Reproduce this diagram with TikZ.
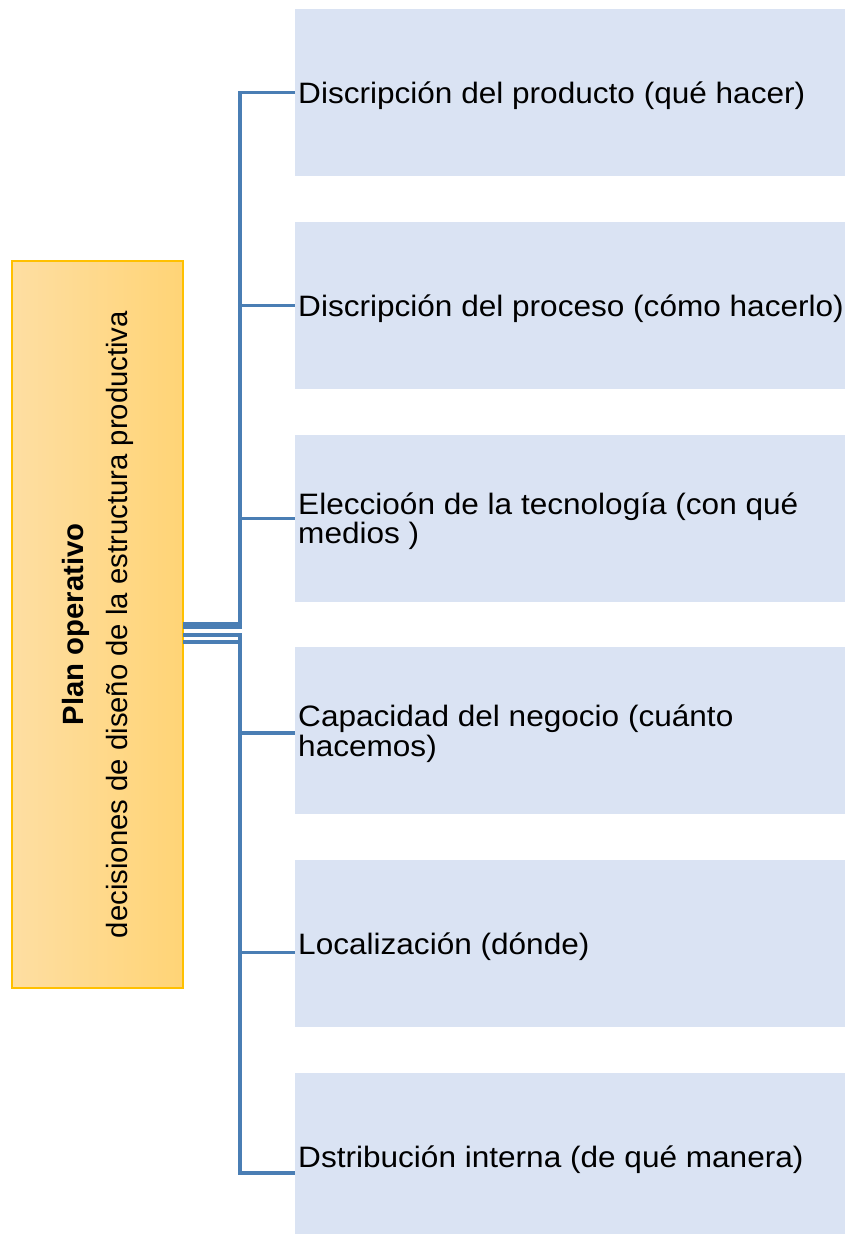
\documentclass[tikz,border=0pt]{standalone}
\usepackage{fontspec}
\setmainfont{Liberation Sans}
\definecolor{linkblue}{RGB}{74,126,180}
\definecolor{boxblue}{RGB}{218,227,243}
\definecolor{goldedge}{RGB}{255,192,0}
\definecolor{goldlight}{RGB}{254,222,162}
\definecolor{golddark}{RGB}{255,212,118}
\begin{document}
\begin{tikzpicture}[x=1pt,y=-1pt,
  conn/.style={draw=linkblue, line width=3.2pt},
  itembox/.style={fill=boxblue, draw=none, minimum width=550pt, minimum height=167pt, anchor=north west, inner sep=0pt, outer sep=0pt},
  itemtext/.style={anchor=west, align=left, font=\fontsize{29.5}{29.5}\selectfont, inner sep=0pt, xscale=1.07, transform shape},
  plantext/.style={rotate=90, inner sep=0pt, font=\fontsize{29.3}{29.3}\selectfont}
]
\useasboundingbox (0,0) rectangle (845,1234);
% left box
\node[draw=goldedge, line width=1.5pt, left color=goldlight, right color=golddark,
      minimum width=171pt, minimum height=727pt, inner sep=0pt, outer sep=0pt] (L) at (97.5,624.5) {};
\node[plantext, font=\bfseries\fontsize{29.3}{29.3}\selectfont] (p1) at (76,624.5) {Plan operativo};
\node[plantext] (p2) at (120,624.5) {decisiones de diseño de la estructura productiva};
% right boxes
\node[itembox] (b1) at (295,9) {};
\node[itembox] (b2) at (295,221.8) {};
\node[itembox] (b3) at (295,434.6) {};
\node[itembox] (b4) at (295,647.4) {};
\node[itembox] (b5) at (295,860.2) {};
\node[itembox] (b6) at (295,1073) {};
\node[itemtext] (t1) at ([xshift=3pt,yshift=-3pt]b1.west) {Discripción del producto (qué hacer)};
\node[itemtext] (t2) at ([xshift=3pt,yshift=-3pt]b2.west) {Discripción del proceso (cómo hacerlo)};
\node[itemtext] (t3) at ([xshift=3pt,yshift=-3pt]b3.west) {Eleccioón de la tecnología (con qué\\medios )};
\node[itemtext] (t4) at ([xshift=3pt,yshift=-3pt]b4.west) {Capacidad del negocio (cuánto\\hacemos)};
\node[itemtext] (t5) at ([xshift=3pt,yshift=-3pt]b5.west) {Localización (dónde)};
\node[itemtext] (t6) at ([xshift=3pt,yshift=-3pt]b6.west) {Dstribución interna (de qué manera)};
% connectors
\coordinate (bus) at (240,0);
\draw[conn] (L.east |- 0,624) -- (bus |- 0,624) |- (b1.west);
\draw[conn] (L.east |- 0,624) -- (bus |- 0,624) |- (b2.west);
\draw[conn] (L.east |- 0,627) -- (bus |- 0,627) |- (b3.west);
\draw[conn] (L.east |- 0,635) -- (bus |- 0,635) |- ([yshift=-2pt]b4.west);
\draw[conn] (L.east |- 0,642) -- (bus |- 0,642) |- ([yshift=-9pt]b5.west);
\draw[conn] (L.east |- 0,642) -- (bus |- 0,642) |- ([yshift=-16.5pt]b6.west);
\end{tikzpicture}
\end{document}
